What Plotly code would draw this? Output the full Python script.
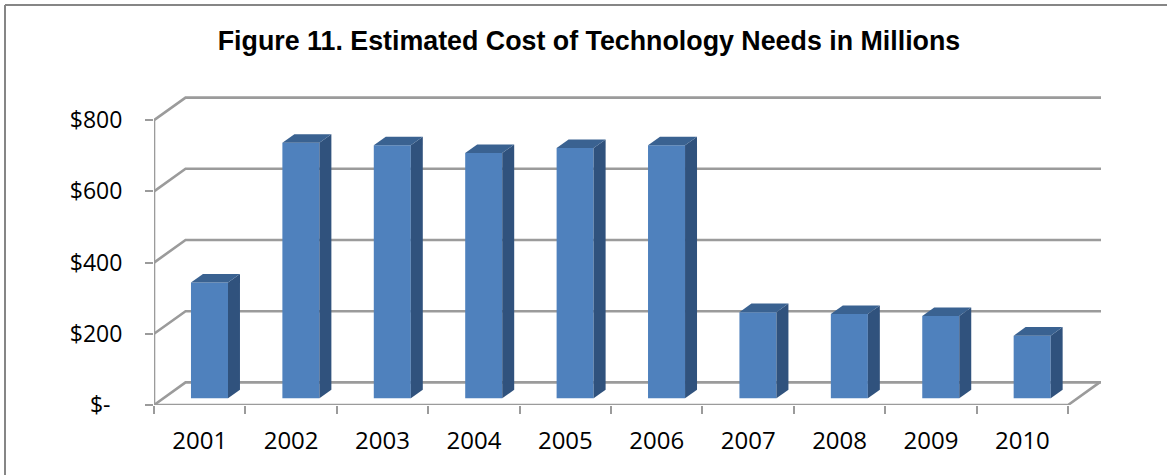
import plotly.graph_objects as go

years = ["2001", "2002", "2003", "2004", "2005", "2006", "2007", "2008", "2009", "2010"]
cost = [325, 718, 711, 689, 703, 711, 242, 237, 231, 176]
y_ticks = [0, 200, 400, 600, 800]
y_labels = ["$-\u00a0\u00a0", "$200", "$400", "$600", "$800"]

# pseudo-3D projection, in axis units
WALL_DX, WALL_DY = 0.345, 63.5
BAR_DX, BAR_DY = 0.131, 24.0
BAR_W, BAR_SHIFT, BAR_BASE = 0.405, 0.107, 18.8
XMIN, XMAX, YMAX = -0.5, 9.86, 868

GRID = "#9b9b9b"
FRONT, SIDE, TOP = "#4F81BD", "#30527D", "#3A6291"
FRAME = "#868686"

fig = go.Figure()

def line(xs, ys, width=2.6, color=GRID):
    fig.add_trace(go.Scatter(x=xs, y=ys, mode="lines", line=dict(color=color, width=width),
                             hoverinfo="skip", showlegend=False, cliponaxis=False))

# walls and floor
for v in y_ticks:
    line([XMIN, XMIN + WALL_DX, XMAX], [v, v + WALL_DY, v + WALL_DY])
line([XMIN, XMIN], [0, 800])
line([XMIN, 9.5, 9.5 + WALL_DX], [0, 0, WALL_DY])

# bars
xc = [i + BAR_SHIFT for i in range(len(cost))]
fig.add_trace(go.Bar(x=xc, y=cost, base=BAR_BASE, width=BAR_W, marker=dict(color=FRONT, line=dict(width=0)),
                     xaxis="x2", yaxis="y2", showlegend=False, hovertemplate="%{y}<extra></extra>"))
for c, v in zip(xc, cost):
    l, r, t, b = c - BAR_W / 2, c + BAR_W / 2, BAR_BASE + v, BAR_BASE
    fig.add_trace(go.Scatter(x=[r, r + BAR_DX, r + BAR_DX, r, r], y=[b, b + BAR_DY, t + BAR_DY, t, b],
                             fill="toself", fillcolor=SIDE, mode="lines", line=dict(width=0),
                             xaxis="x2", yaxis="y2", hoverinfo="skip", showlegend=False))
    fig.add_trace(go.Scatter(x=[l, l + BAR_DX, r + BAR_DX, r, l], y=[t, t + BAR_DY, t + BAR_DY, t, t],
                             fill="toself", fillcolor=TOP, mode="lines", line=dict(width=0),
                             xaxis="x2", yaxis="y2", hoverinfo="skip", showlegend=False))

fig.update_layout(
    width=1167, height=475, autosize=False,
    margin=dict(l=154, r=66, t=96, b=70),
    paper_bgcolor="white", plot_bgcolor="white", showlegend=False, hovermode=False,
    title=dict(text="<b>Figure 11. Estimated Cost of Technology Needs in Millions</b>",
               x=589 / 1167, xanchor="center", y=1 - 41 / 475, yanchor="middle",
               font=dict(family="Liberation Sans", size=26.8, color="#000000")),
    xaxis=dict(range=[XMIN, XMAX], showgrid=False, zeroline=False, showline=False,
               tickmode="array", tickvals=[i - 0.5 for i in range(11)], ticktext=[""] * 11,
               ticks="outside", ticklen=8, tickwidth=2, tickcolor=GRID),
    xaxis2=dict(range=[XMIN, XMAX], overlaying="x", side="bottom", anchor="y2", showgrid=False,
                zeroline=False, showline=False, tickmode="array", tickvals=list(range(10)),
                ticktext=years, ticks="", ticklabelstandoff=19,
                tickfont=dict(family="Open Sans", size=24, color="#000000")),
    yaxis=dict(range=[0, YMAX], showgrid=False, zeroline=False, showline=False,
               tickmode="array", tickvals=y_ticks, ticktext=y_labels,
               tickfont=dict(family="Open Sans", size=23, color="#000000"),
               ticks="outside", ticklen=8, tickwidth=2, tickcolor=GRID, ticklabelstandoff=18),
    yaxis2=dict(range=[0, YMAX], overlaying="y", anchor="x2", visible=False),
    shapes=[
        dict(type="line", xref="paper", yref="paper", x0=-149 / 947, x1=66 / 947 + 1,
             y0=1 + 91 / 309, y1=1 + 91 / 309, line=dict(color=FRAME, width=2)),
        dict(type="line", xref="paper", yref="paper", x0=-149 / 947, x1=-149 / 947,
             y0=1 + 91 / 309, y1=-70 / 309, line=dict(color=FRAME, width=2)),
    ],
)

fig.write_html("out.html", config=dict(displayModeBar=False),
               post_script="document.body.style.margin='0';document.documentElement.style.overflow='hidden';")
